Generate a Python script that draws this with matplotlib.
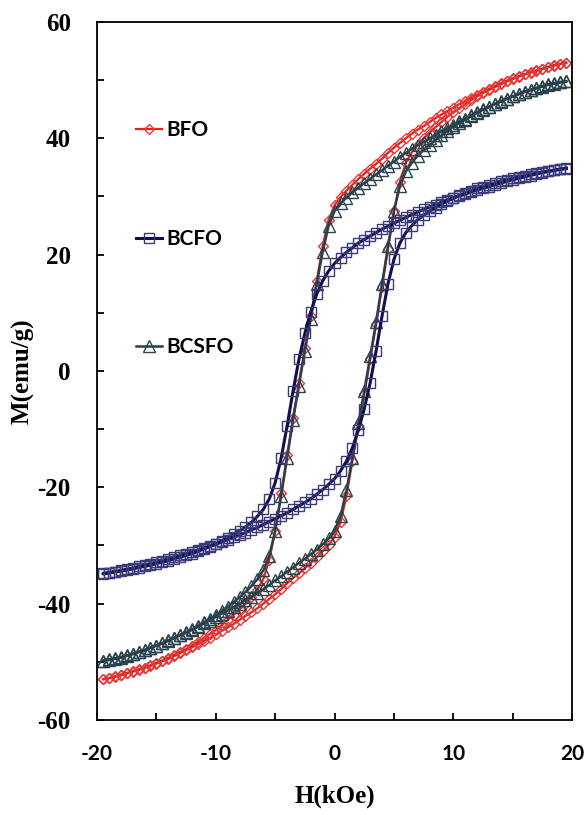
import numpy as np
import matplotlib
matplotlib.use("Agg")
import matplotlib.pyplot as plt
from matplotlib.ticker import MultipleLocator

plt.rcParams["axes.unicode_minus"] = False

# field values of the descending branch (kOe)
field = [19.5, 19.0, 18.5, 18.0, 17.5, 17.0, 16.5, 16.0, 15.5, 15.0,
         14.5, 14.0, 13.5, 13.0, 12.5, 12.0, 11.5, 11.0, 10.5, 10.0,
         9.5, 9.0, 8.5, 8.0, 7.5, 7.0, 6.5, 6.0, 5.5, 5.0,
         4.5, 4.0, 3.5, 3.0, 2.5, 2.0, 1.5, 1.0, 0.5, 0.0,
         -0.5, -1.0, -1.5, -2.0, -2.5, -3.0, -3.5, -4.0, -4.5, -5.0,
         -5.5, -6.0, -6.5, -7.0, -7.5, -8.0, -8.5, -9.0, -9.5, -10.0,
         -10.5, -11.0, -11.5, -12.0, -12.5, -13.0, -13.5, -14.0, -14.5, -15.0,
         -15.5, -16.0, -16.5, -17.0, -17.5, -18.0, -18.5, -19.0, -19.5]

# magnetization (emu/g) on the descending branch
bfo = [53.0, 52.8, 52.6, 52.3, 52.0, 51.7, 51.4, 51.0, 50.7, 50.3,
       49.9, 49.5, 49.0, 48.5, 48.0, 47.5, 47.0, 46.4, 45.9, 45.3,
       44.7, 44.1, 43.5, 42.8, 42.1, 41.5, 40.8, 40.0, 39.2, 38.4,
       37.5, 36.5, 35.6, 34.8, 33.9, 33.0, 32.0, 31.0, 29.9, 28.5,
       26.0, 21.5, 15.5, 9.5, 4.0, -2.0, -8.0, -14.5, -21.0, -27.5,
       -32.5, -35.8, -37.6, -38.9, -40.0, -41.0, -41.9, -42.8, -43.7, -44.5,
       -45.2, -45.9, -46.6, -47.2, -47.8, -48.3, -48.8, -49.3, -49.8, -50.2,
       -50.6, -51.0, -51.3, -51.6, -51.9, -52.2, -52.5, -52.8, -53.0]

bcfo = [34.9, 34.7, 34.5, 34.3, 34.1, 33.9, 33.6, 33.4, 33.1, 32.9,
        32.6, 32.3, 32.0, 31.7, 31.4, 31.1, 30.8, 30.4, 30.1, 29.8,
        29.4, 29.0, 28.6, 28.2, 27.8, 27.3, 26.9, 26.4, 25.9, 25.4,
        24.9, 24.4, 23.8, 23.2, 22.6, 22.0, 21.2, 20.4, 19.5, 18.5,
        17.2, 15.5, 13.2, 10.2, 6.5, 2.0, -3.5, -9.5, -15.0, -19.2,
        -22.0, -23.8, -25.0, -26.0, -26.8, -27.5, -28.1, -28.7, -29.2, -29.7,
        -30.2, -30.6, -31.0, -31.4, -31.7, -32.0, -32.3, -32.6, -32.9, -33.1,
        -33.4, -33.6, -33.8, -34.0, -34.2, -34.4, -34.5, -34.7, -34.8]

bcsfo = [49.8, 49.7, 49.5, 49.3, 49.0, 48.7, 48.3, 48.0, 47.6, 47.2,
         46.8, 46.3, 45.9, 45.4, 45.0, 44.5, 44.0, 43.4, 42.9, 42.3,
         41.7, 41.2, 40.6, 40.0, 39.4, 38.8, 38.2, 37.5, 36.8, 36.0,
         35.3, 34.5, 33.8, 33.0, 32.3, 31.5, 30.7, 29.8, 28.8, 27.5,
         25.0, 20.5, 15.0, 9.0, 3.5, -2.5, -8.5, -15.0, -21.5, -27.5,
         -31.8, -34.3, -35.8, -37.0, -38.0, -38.9, -39.7, -40.5, -41.3, -42.0,
         -42.6, -43.2, -43.8, -44.4, -44.9, -45.4, -45.9, -46.4, -46.8, -47.2,
         -47.6, -48.0, -48.3, -48.6, -48.9, -49.2, -49.4, -49.6, -49.8]

samples = ["BFO", "BCSFO", "BCFO"]
y_ticks = [-60, -40, -20, 0, 20, 40, 60]
x_ticks = [-20, -10, 0, 10, 20]

styles = {
    "BFO": dict(color="#e3211f", mec="#e33a38", marker="D", ms=5.5, lw=1.6),
    "BCFO": dict(color="#0f0f52", mec="#3b3b7c", marker="s", ms=7, lw=2.2),
    "BCSFO": dict(color="#27404b", mec="#2b434d", marker="^", ms=8, lw=1.8),
}
values = {"BFO": bfo, "BCFO": bcfo, "BCSFO": bcsfo}

fig = plt.figure(figsize=(5.88, 8.15), dpi=100)
ax = fig.add_axes([0.165, 0.1166, 0.808, 0.8564])

h = np.array(field)
handles = {}
for name in samples:
    m = np.array(values[name])
    st = styles[name]
    # full loop: descending branch, then the ascending branch (loop is symmetric)
    hh = np.concatenate([h, -h])
    mm = np.concatenate([m, -m])
    line, = ax.plot(hh, mm, color=st["color"], lw=st["lw"], marker=st["marker"],
                    ms=st["ms"], mfc="none", mec=st["mec"], mew=1.0)
    handles[name] = line

ax.set_xlim(-20, 20)
ax.set_ylim(-60, 60)
ax.set_xticks(x_ticks)
ax.set_yticks(y_ticks)
ax.xaxis.set_minor_locator(MultipleLocator(5))
ax.yaxis.set_minor_locator(MultipleLocator(10))
ax.tick_params(which="both", direction="in", length=5, width=1.3,
               top=False, right=False)
ax.tick_params(axis="y", pad=19)
ax.tick_params(axis="x", pad=17)
for lab in ax.get_yticklabels():
    lab.set_fontfamily("Liberation Serif")
    lab.set_fontweight("bold")
    lab.set_fontsize(18)
for lab in ax.get_xticklabels():
    lab.set_fontfamily("Lato")
    lab.set_fontweight("bold")
    lab.set_fontsize(15)
for sp in ax.spines.values():
    sp.set_linewidth(1.3)

ax.set_xlabel("H(kOe)", fontfamily="Liberation Serif", fontweight="bold",
              fontsize=18, labelpad=15)
ax.set_ylabel("M(emu/g)", fontfamily="Liberation Serif", fontweight="bold",
              fontsize=18, labelpad=2)

leg = ax.legend([handles[n] for n in ["BFO", "BCFO", "BCSFO"]],
                ["BFO", "BCFO", "BCSFO"], loc="upper left",
                bbox_to_anchor=(0.042, 0.886), frameon=False, numpoints=1,
                handlelength=1.25, handletextpad=0.2, labelspacing=4.25,
                prop=dict(family="Lato", weight="bold", size=15))

fig.savefig("out.png", dpi=100)
